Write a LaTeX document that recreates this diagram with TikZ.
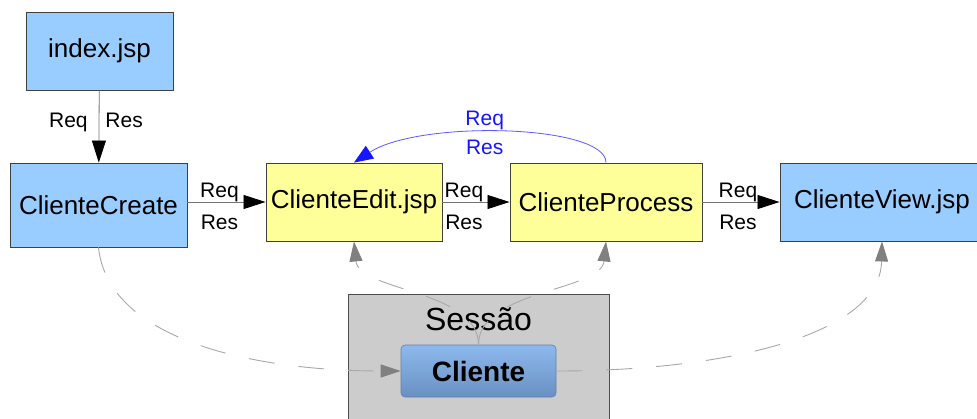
\documentclass[tikz,border=0pt]{standalone}
\usepackage{fontspec}
\setmainfont{Liberation Sans}
\usetikzlibrary{arrows.meta}
\definecolor{boxblue}{HTML}{99CCFF}
\definecolor{boxyellow}{HTML}{FFFF99}
\definecolor{sessgray}{HTML}{CCCCCC}
\definecolor{clitop}{HTML}{8DB9EE}
\definecolor{clibot}{HTML}{6A90C2}
\definecolor{dashgray}{HTML}{A8A8A8}
\definecolor{tipgray}{HTML}{808080}
\definecolor{linkblue}{HTML}{1515FF}
\begin{document}
\begin{tikzpicture}[x=1pt,y=-1pt,
  pagebox/.style={draw=black!75, line width=0.9pt, inner sep=0pt, font=\fontsize{26}{30}\selectfont},
  bluebox/.style={pagebox, fill=boxblue},
  yellowbox/.style={pagebox, fill=boxyellow},
  flow/.style={draw=black!55, line width=0.8pt, -{Triangle[length=22pt,width=14pt,color=black]}},
  blueflow/.style={draw=linkblue!70, line width=0.8pt, -{Triangle[length=19pt,width=15pt,color=linkblue]}},
  dashline/.style={draw=dashgray, line width=0.9pt, dash pattern=on 26pt off 24pt, -{Triangle[length=20pt,width=13pt,color=tipgray]}},
  lab/.style={font=\fontsize{21}{24}\selectfont, text height=15pt, text depth=4.5pt, inner sep=0pt},
  reqlab/.style={lab, above},
  reslab/.style={lab, below, yshift=-12pt},
]
\clip (0,0) rectangle (977,418);
% pages
\node[bluebox, minimum width=147pt, minimum height=78pt] (index) at (99.5,51) {index.jsp};
\node[bluebox, minimum width=177pt, minimum height=84pt] (create) at (98.5,205) {ClienteCreate};
\node[yellowbox, minimum width=176pt, minimum height=78pt] (edit) at (354,202) {ClienteEdit.jsp};
\node[yellowbox, minimum width=192pt, minimum height=78pt] (process) at (606,202) {ClienteProcess};
\node[bluebox, minimum width=204pt, minimum height=78pt] (view) at (882,202) {ClienteView.jsp};
% session
\node[draw=black!70, line width=0.9pt, fill=sessgray, minimum width=261pt, minimum height=140pt, inner sep=0pt] (sessao) at (478.5,364) {};
\node[font=\fontsize{32}{36}\selectfont, anchor=base, inner sep=0pt] (sessaolab) at (478.5,330) {Sessão};
\node[draw=clibot!90!black, line width=0.6pt, rounded corners=4pt, top color=clitop, bottom color=clibot,
      minimum width=155pt, minimum height=52pt, inner sep=0pt, font=\bfseries\fontsize{28}{32}\selectfont] (cliente) at (478.5,371) {Cliente};
% request flows
\draw[flow] (index) -- (create)
  node[lab, pos=0.435, left, xshift=-11pt] (l1) {Req}
  node[lab, pos=0.435, right, xshift=6pt] (l2) {Res};
\draw[flow] (create.east |- edit.west) -- (edit.west)
  node[reqlab, pos=0.41] (l3) {Req}
  node[reslab, pos=0.41] (l4) {Res};
\draw[flow] (edit) -- (process)
  node[reqlab, pos=0.32] (l5) {Req}
  node[reslab, pos=0.32] (l6) {Res};
\draw[flow] (process) -- (view)
  node[reqlab, pos=0.46] (l7) {Req}
  node[reslab, pos=0.46] (l8) {Res};
\draw[blueflow] (process.north) .. controls +(0,-38) and +(66,-43) .. (edit.north)
  node[lab, pos=0.56, above, yshift=2pt, text=linkblue] (l9) {Req}
  node[lab, pos=0.56, below, yshift=-7pt, text=linkblue] (l10) {Res};
% session links
\draw[dashline] (create.south) .. controls +(10,95) and +(-140,0) .. (cliente.west);
\draw[dashline] (cliente.east) .. controls +(165,0) and +(-2,95) .. (view.south);
\draw[dashline] (cliente.north) .. controls +(0,-55) and +(5,50) .. (edit.south);
\draw[dashline] (cliente.north) .. controls +(0,-55) and +(-5,50) .. (process.south);
\end{tikzpicture}
\end{document}
